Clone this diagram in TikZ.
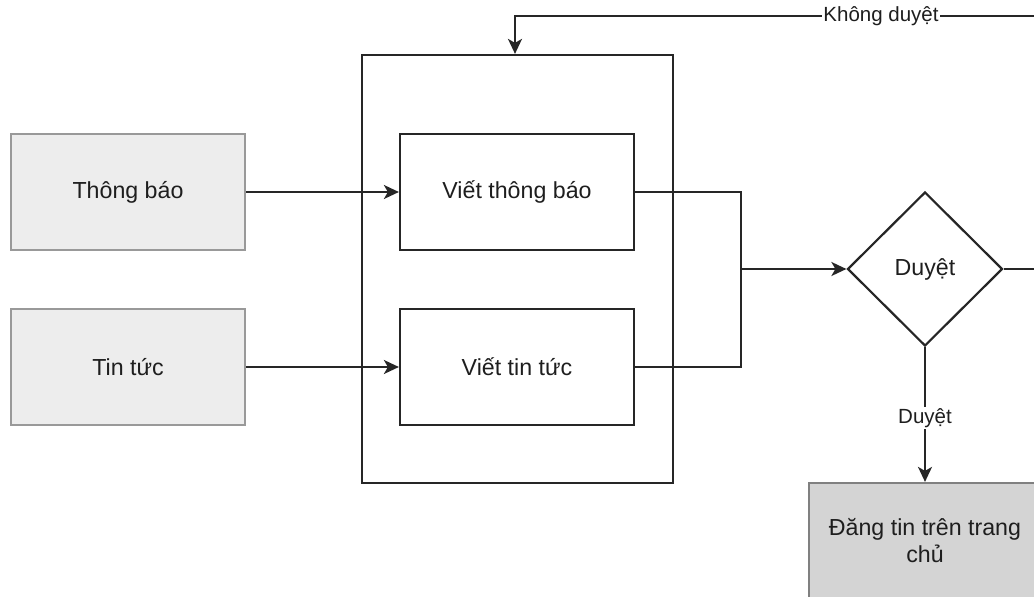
\documentclass[tikz,border=0pt]{standalone}
\usepackage{fontspec}
\setmainfont{Liberation Sans}
\usetikzlibrary{shapes.geometric,arrows.meta}
\definecolor{txt}{HTML}{1E1E1E}
\definecolor{edge}{HTML}{262626}
\tikzset{
  boxnode/.style={draw=edge,line width=2.2pt,minimum width=234pt,minimum height=116pt,inner sep=0pt,text=txt,font=\fontsize{23.2}{27}\selectfont,align=center},
  srcbox/.style={boxnode,draw=black!40,fill=black!7},
  pubbox/.style={boxnode,draw=black!50,fill=black!17},
  conn/.style={draw=edge,line width=2.2pt},
  arr/.style={conn,-{Stealth[length=15pt,width=14pt,inset=4pt]}},
  elabel/.style={fill=white,inner sep=1pt,text=txt,font=\fontsize{20.5}{24}\selectfont}
}
\begin{document}
\begin{tikzpicture}[x=1pt,y=-1pt]
\useasboundingbox (0,0) rectangle (1034,597);
\clip (0,0) rectangle (1034,597);
\node[draw=edge,line width=2.2pt,minimum width=311pt,minimum height=428pt,inner sep=0pt] (cont) at (517.5,269) {};
\node[srcbox] (tb) at (128,192) {Thông báo};
\node[srcbox] (tt) at (128,367) {Tin tức};
\node[boxnode] (vtb) at (517,192) {Viết thông báo};
\node[boxnode] (vtt) at (517,367) {Viết tin tức};
\node[diamond,draw=edge,line width=2.2pt,minimum width=155pt,minimum height=154pt,inner sep=0pt,text=txt,font=\fontsize{23.2}{27}\selectfont] (dia) at (925,269) {Duyệt};
\node[pubbox,minimum width=232pt] (dang) at (925,541) {Đăng tin trên trang\\chủ};
\coordinate (j) at (741,269);
\coordinate (r1) at (1060,269);
\coordinate (r2) at (1060,16);
\coordinate (l1) at (515,16);
\draw[arr] (tb.east) -- (vtb.west);
\draw[arr] (tt.east) -- (vtt.west);
\draw[conn] (vtb.east) -| (j);
\draw[conn] (vtt.east) -| (j);
\draw[arr] (j) -- (dia.west);
\draw[arr] (dia.east) -- (r1) -- (r2) -- (l1) -- (l1 |- cont.north);
\node[elabel] (kd) at (881,16) {Không duyệt};
\draw[arr] (dia.south) -- (dang.north);
\node[elabel] (dy) at (925,418) {Duyệt};
\end{tikzpicture}
\end{document}
